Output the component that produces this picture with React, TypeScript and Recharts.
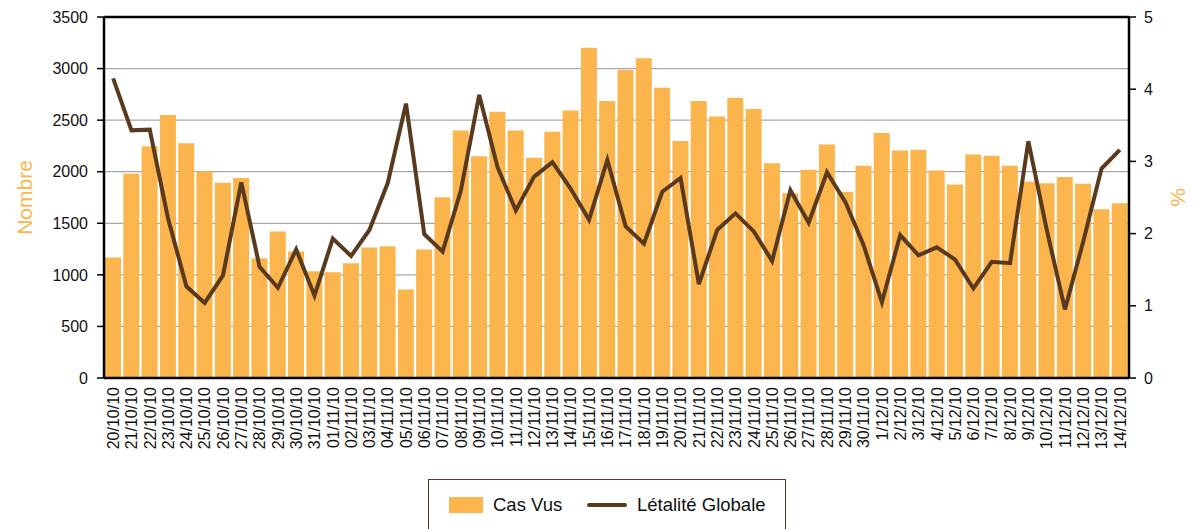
import React from 'react';
import { ComposedChart, Bar, Line, XAxis, YAxis, CartesianGrid, ReferenceLine, Legend } from 'recharts';

const dates = [
  '20/10/10','21/10/10','22/10/10','23/10/10','24/10/10','25/10/10','26/10/10','27/10/10','28/10/10','29/10/10','30/10/10','31/10/10',
  '01/11/10','02/11/10','03/11/10','04/11/10','05/11/10','06/11/10','07/11/10','08/11/10','09/11/10','10/11/10',
  '11/11/10','12/11/10','13/11/10','14/11/10','15/11/10','16/11/10','17/11/10','18/11/10','19/11/10','20/11/10',
  '21/11/10','22/11/10','23/11/10','24/11/10','25/11/10','26/11/10','27/11/10','28/11/10','29/11/10','30/11/10',
  '1/12/10','2/12/10','3/12/10','4/12/10','5/12/10','6/12/10','7/12/10','8/12/10','9/12/10','10/12/10',
  '11/12/10','12/12/10','13/12/10','14/12/10',
];

const casVus = [
  1168, 1980, 2248, 2549, 2277, 2002, 1892, 1938, 1161, 1420,
  1226, 1035, 1025, 1113, 1265, 1278, 857, 1245, 1753, 2400,
  2151, 2582, 2400, 2135, 2387, 2594, 3203, 2685, 2986, 3099,
  2814, 2297, 2685, 2536, 2717, 2607, 2083, 1792, 2019, 2265,
  1805, 2057, 2375, 2206, 2213, 2012, 1876, 2167, 2155, 2057,
  1902, 1889, 1948, 1883, 1637, 1695,
];

const letalite = [
  4.15, 3.43, 3.44, 2.21, 1.27, 1.04, 1.42, 2.71, 1.54, 1.25,
  1.78, 1.14, 1.93, 1.69, 2.05, 2.70, 3.80, 1.99, 1.75, 2.60,
  3.92, 2.92, 2.32, 2.79, 2.99, 2.62, 2.19, 3.02, 2.10, 1.86,
  2.58, 2.77, 1.30, 2.05, 2.28, 2.03, 1.62, 2.60, 2.15, 2.85,
  2.44, 1.84, 1.05, 1.98, 1.70, 1.81, 1.64, 1.24, 1.61, 1.59,
  3.28, 2.06, 0.95, 1.89, 2.90, 3.16,
];

const leftTicks = [0, 500, 1000, 1500, 2000, 2500, 3000, 3500];
const rightTicks = [0, 1, 2, 3, 4, 5];

const data = dates.map((d, i) => ({ date: d, cas: casVus[i], let: letalite[i] }));

const FONT = '"Liberation Sans", Arial, Helvetica, sans-serif';
const ORANGE = '#FBB54C';
const BROWN = '#5A3A1F';

const DateTick = (props: any) => {
  const { x, y, payload } = props;
  const ty = y + 9;
  return (
    <text
      x={x}
      y={ty}
      transform={`rotate(-90, ${x}, ${ty})`}
      textAnchor="end"
      dy="0.36em"
      fontSize={16}
      fontFamily={FONT}
      fill="#111"
    >
      {payload.value}
    </text>
  );
};

const LeftTitle = (props: any) => {
  const vb = props.viewBox || {};
  const cx = 25;
  const cy = vb.y + vb.height / 2;
  return (
    <text x={cx} y={cy} transform={`rotate(-90, ${cx}, ${cy})`} textAnchor="middle" dy="0.35em" fontSize={21} fontFamily={FONT} fill={ORANGE}>
      Nombre
    </text>
  );
};

const RightTitle = (props: any) => {
  const vb = props.viewBox || {};
  const cx = vb.x + 49;
  const cy = vb.y + vb.height / 2;
  return (
    <text x={cx} y={cy} transform={`rotate(-90, ${cx}, ${cy})`} textAnchor="middle" dy="0.35em" fontSize={21} fontFamily={FONT} fill={ORANGE}>
      %
    </text>
  );
};

const LegendBox = () => (
  <div
    style={{
      boxSizing: 'border-box',
      width: 358,
      height: 50,
      borderTop: `1.5px solid ${BROWN}`,
      borderLeft: `1.5px solid ${BROWN}`,
      borderRight: `1.5px solid ${BROWN}`,
      position: 'relative',
      fontFamily: FONT,
      fontSize: 18.5,
      color: '#111',
    }}
  >
    <div style={{ position: 'absolute', left: 20, top: 17, width: 34, height: 16, background: ORANGE }} />
    <div style={{ position: 'absolute', left: 64, top: 13, lineHeight: '24px', whiteSpace: 'nowrap' }}>Cas Vus</div>
    <div style={{ position: 'absolute', left: 158, top: 23, width: 40, height: 4, background: BROWN, borderRadius: 2 }} />
    <div style={{ position: 'absolute', left: 208, top: 13, lineHeight: '24px', whiteSpace: 'nowrap' }}>Létalité Globale</div>
  </div>
);

export default function App() {
  return (
    <div style={{ position: 'absolute', left: 0, top: 0, width: 1196, height: 529, overflow: 'hidden', background: '#fff' }}>
      <ComposedChart
        width={1196}
        height={529}
        data={data}
        margin={{ top: 17, right: 0, left: 0, bottom: 0 }}
        barCategoryGap={1}
      >
        <CartesianGrid yAxisId="left" vertical={false} stroke="#a8a8a8" strokeWidth={1.2} />
        <XAxis
          dataKey="date"
          interval={0}
          height={151}
          tick={<DateTick />}
          tickLine={false}
          tickSize={0}
          tickMargin={0}
          axisLine={{ stroke: '#000', strokeWidth: 2.5 }}
        />
        <YAxis
          yAxisId="left"
          width={104}
          domain={[0, 3500]}
          ticks={leftTicks}
          interval={0}
          tickSize={7}
          tickMargin={9}
          axisLine={{ stroke: '#000', strokeWidth: 2.5 }}
          tickLine={{ stroke: '#000', strokeWidth: 1.5 }}
          tick={{ fontSize: 16, fontFamily: FONT, fill: '#111' }}
          label={<LeftTitle />}
        />
        <YAxis
          yAxisId="right"
          orientation="right"
          width={67}
          domain={[0, 5]}
          ticks={rightTicks}
          interval={0}
          tickSize={7}
          tickMargin={8}
          axisLine={{ stroke: '#000', strokeWidth: 2.5 }}
          tickLine={{ stroke: '#000', strokeWidth: 1.5 }}
          tick={{ fontSize: 16, fontFamily: FONT, fill: '#111' }}
          label={<RightTitle />}
        />
        <Bar yAxisId="left" dataKey="cas" name="Cas Vus" fill={ORANGE} isAnimationActive={false} />
        <Line
          yAxisId="right"
          type="linear"
          dataKey="let"
          name="Létalité Globale"
          stroke={BROWN}
          strokeWidth={4}
          dot={false}
          activeDot={false}
          isAnimationActive={false}
        />
        <ReferenceLine yAxisId="left" y={3500} stroke="#000" strokeWidth={2.5} />
        <Legend
          layout="horizontal"
          verticalAlign="middle"
          align="center"
          wrapperStyle={{ left: 428, top: 479, width: 358, height: 50 }}
          content={<LegendBox />}
        />
      </ComposedChart>
    </div>
  );
}
